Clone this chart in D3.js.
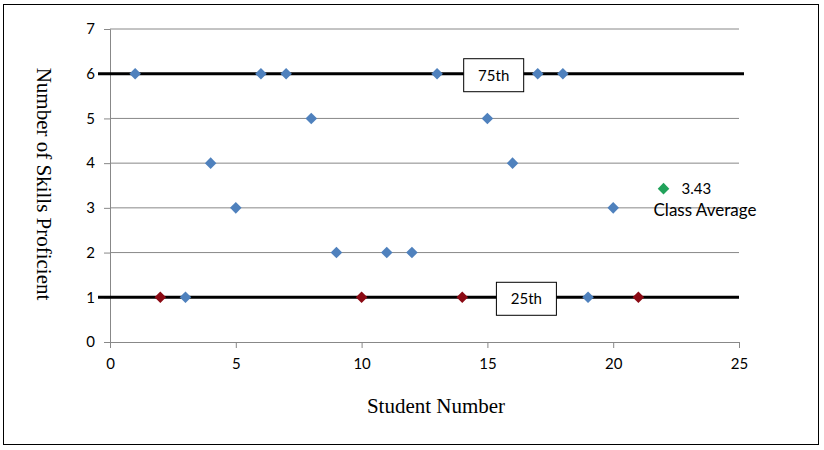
<!DOCTYPE html>
<html>
<head>
<meta charset="utf-8">
<script src="https://cdn.jsdelivr.net/npm/d3@7"></script>
<style>
  body { margin: 0; background: #fff; }
</style>
</head>
<body>
<div id="chart"></div>
<script>
// blue = students between the percentiles, red = at the 25th percentile
var blueStudents = [1, 3, 4, 5, 6, 7, 8, 9, 11, 12, 13, 15, 16, 17, 18, 19, 20];
var blueSkills   = [6, 1, 4, 3, 6, 6, 5, 2, 2, 2, 6, 5, 4, 6, 6, 1, 3];
var redStudents  = [2, 10, 14, 21];
var redSkills    = [1, 1, 1, 1];
var avgStudent = 22, avgSkills = 3.43;
var percentileLines = [{ label: "75th", value: 6, at: 15.25 }, { label: "25th", value: 1, at: 16.55 }];
var xTicks = [0, 5, 10, 15, 20, 25];
var yTicks = [0, 1, 2, 3, 4, 5, 6, 7];

var W = 824, H = 450;
var margin = { top: 29, left: 110, right: 85, bottom: 108 };
var width = W - margin.left - margin.right,
    height = H - margin.top - margin.bottom;
var labelFont = "Lato, 'Open Sans', sans-serif";

var svg = d3.select("#chart").append("svg")
  .attr("width", W)
  .attr("height", H);

svg.append("rect")
  .attr("x", 3.5).attr("y", 4.5)
  .attr("width", 815).attr("height", 440)
  .attr("fill", "#fff").attr("stroke", "#000").attr("stroke-width", 1);

var g = svg.append("g")
  .attr("transform", "translate(" + margin.left + "," + margin.top + ")");

var x = d3.scaleLinear().domain([0, 25]).range([0, width]);
var y = d3.scaleLinear().domain([0, 7]).range([height, 0]);

// gridlines
g.selectAll(".grid")
  .data(yTicks.filter(function(d) { return d > 0; }))
  .enter().append("line")
  .attr("x1", 0).attr("x2", width)
  .attr("y1", function(d) { return y(d); })
  .attr("y2", function(d) { return y(d); })
  .attr("stroke", "#888").attr("stroke-width", 1);

var yAxis = g.append("g")
  .call(d3.axisLeft(y).tickValues(yTicks).tickFormat(d3.format("d")).tickSize(6).tickPadding(9));
var xAxis = g.append("g")
  .attr("transform", "translate(0," + height + ")")
  .call(d3.axisBottom(x).tickValues(xTicks).tickFormat(d3.format("d")).tickSize(6).tickPadding(10));

[xAxis, yAxis].forEach(function(ax) {
  ax.select(".domain").attr("stroke", "#888");
  ax.selectAll(".tick line").attr("stroke", "#888");
  ax.selectAll("text")
    .attr("fill", "#000")
    .style("font-family", labelFont)
    .style("font-size", "15px");
});

// percentile lines
percentileLines.forEach(function(p) {
  g.append("line")
    .attr("x1", -12).attr("x2", width + (p.value === 6 ? 5 : 0))
    .attr("y1", y(p.value)).attr("y2", y(p.value))
    .attr("stroke", "#000").attr("stroke-width", 3);
});

var diamond = d3.symbol().type(d3.symbolDiamond2).size(85);

function plot(xs, ys, color) {
  g.selectAll(null)
    .data(xs)
    .enter().append("path")
    .attr("d", diamond)
    .attr("transform", function(d, i) { return "translate(" + x(d) + "," + y(ys[i]) + ")"; })
    .attr("fill", color);
}
plot(blueStudents, blueSkills, "#4F81BD");
plot(redStudents, redSkills, "#8B0A14");
plot([avgStudent], [avgSkills], "#21A25A");

// percentile label boxes
percentileLines.forEach(function(p) {
  var cx = x(p.at), cy = y(p.value);
  g.append("rect")
    .attr("x", cx - 30).attr("y", cy - 15)
    .attr("width", 60).attr("height", 33)
    .attr("fill", "#fff").attr("stroke", "#000").attr("stroke-width", 1);
  g.append("text")
    .attr("x", cx).attr("y", cy + 7)
    .attr("text-anchor", "middle")
    .style("font-family", labelFont)
    .style("font-size", "15px")
    .text(p.label);
});

// class average label
g.append("text")
  .attr("x", x(avgStudent) + 18).attr("y", y(avgSkills) + 5)
  .style("font-family", labelFont)
  .style("font-size", "15px")
  .text(avgSkills.toFixed(2));
g.append("text")
  .attr("x", x(avgStudent) - 10).attr("y", y(avgSkills) + 27)
  .style("font-family", labelFont)
  .style("font-size", "17px")
  .text("Class Average");

// axis titles
svg.append("text")
  .attr("x", 436).attr("y", 413)
  .attr("text-anchor", "middle")
  .style("font-family", "'Liberation Serif', serif")
  .style("font-size", "21px")
  .text("Student Number");

svg.append("text")
  .attr("transform", "translate(37,184) rotate(90)")
  .attr("text-anchor", "middle")
  .style("font-family", "'Liberation Serif', serif")
  .style("font-size", "21px")
  .text("Number of Skills Proficient");
</script>
</body>
</html>
